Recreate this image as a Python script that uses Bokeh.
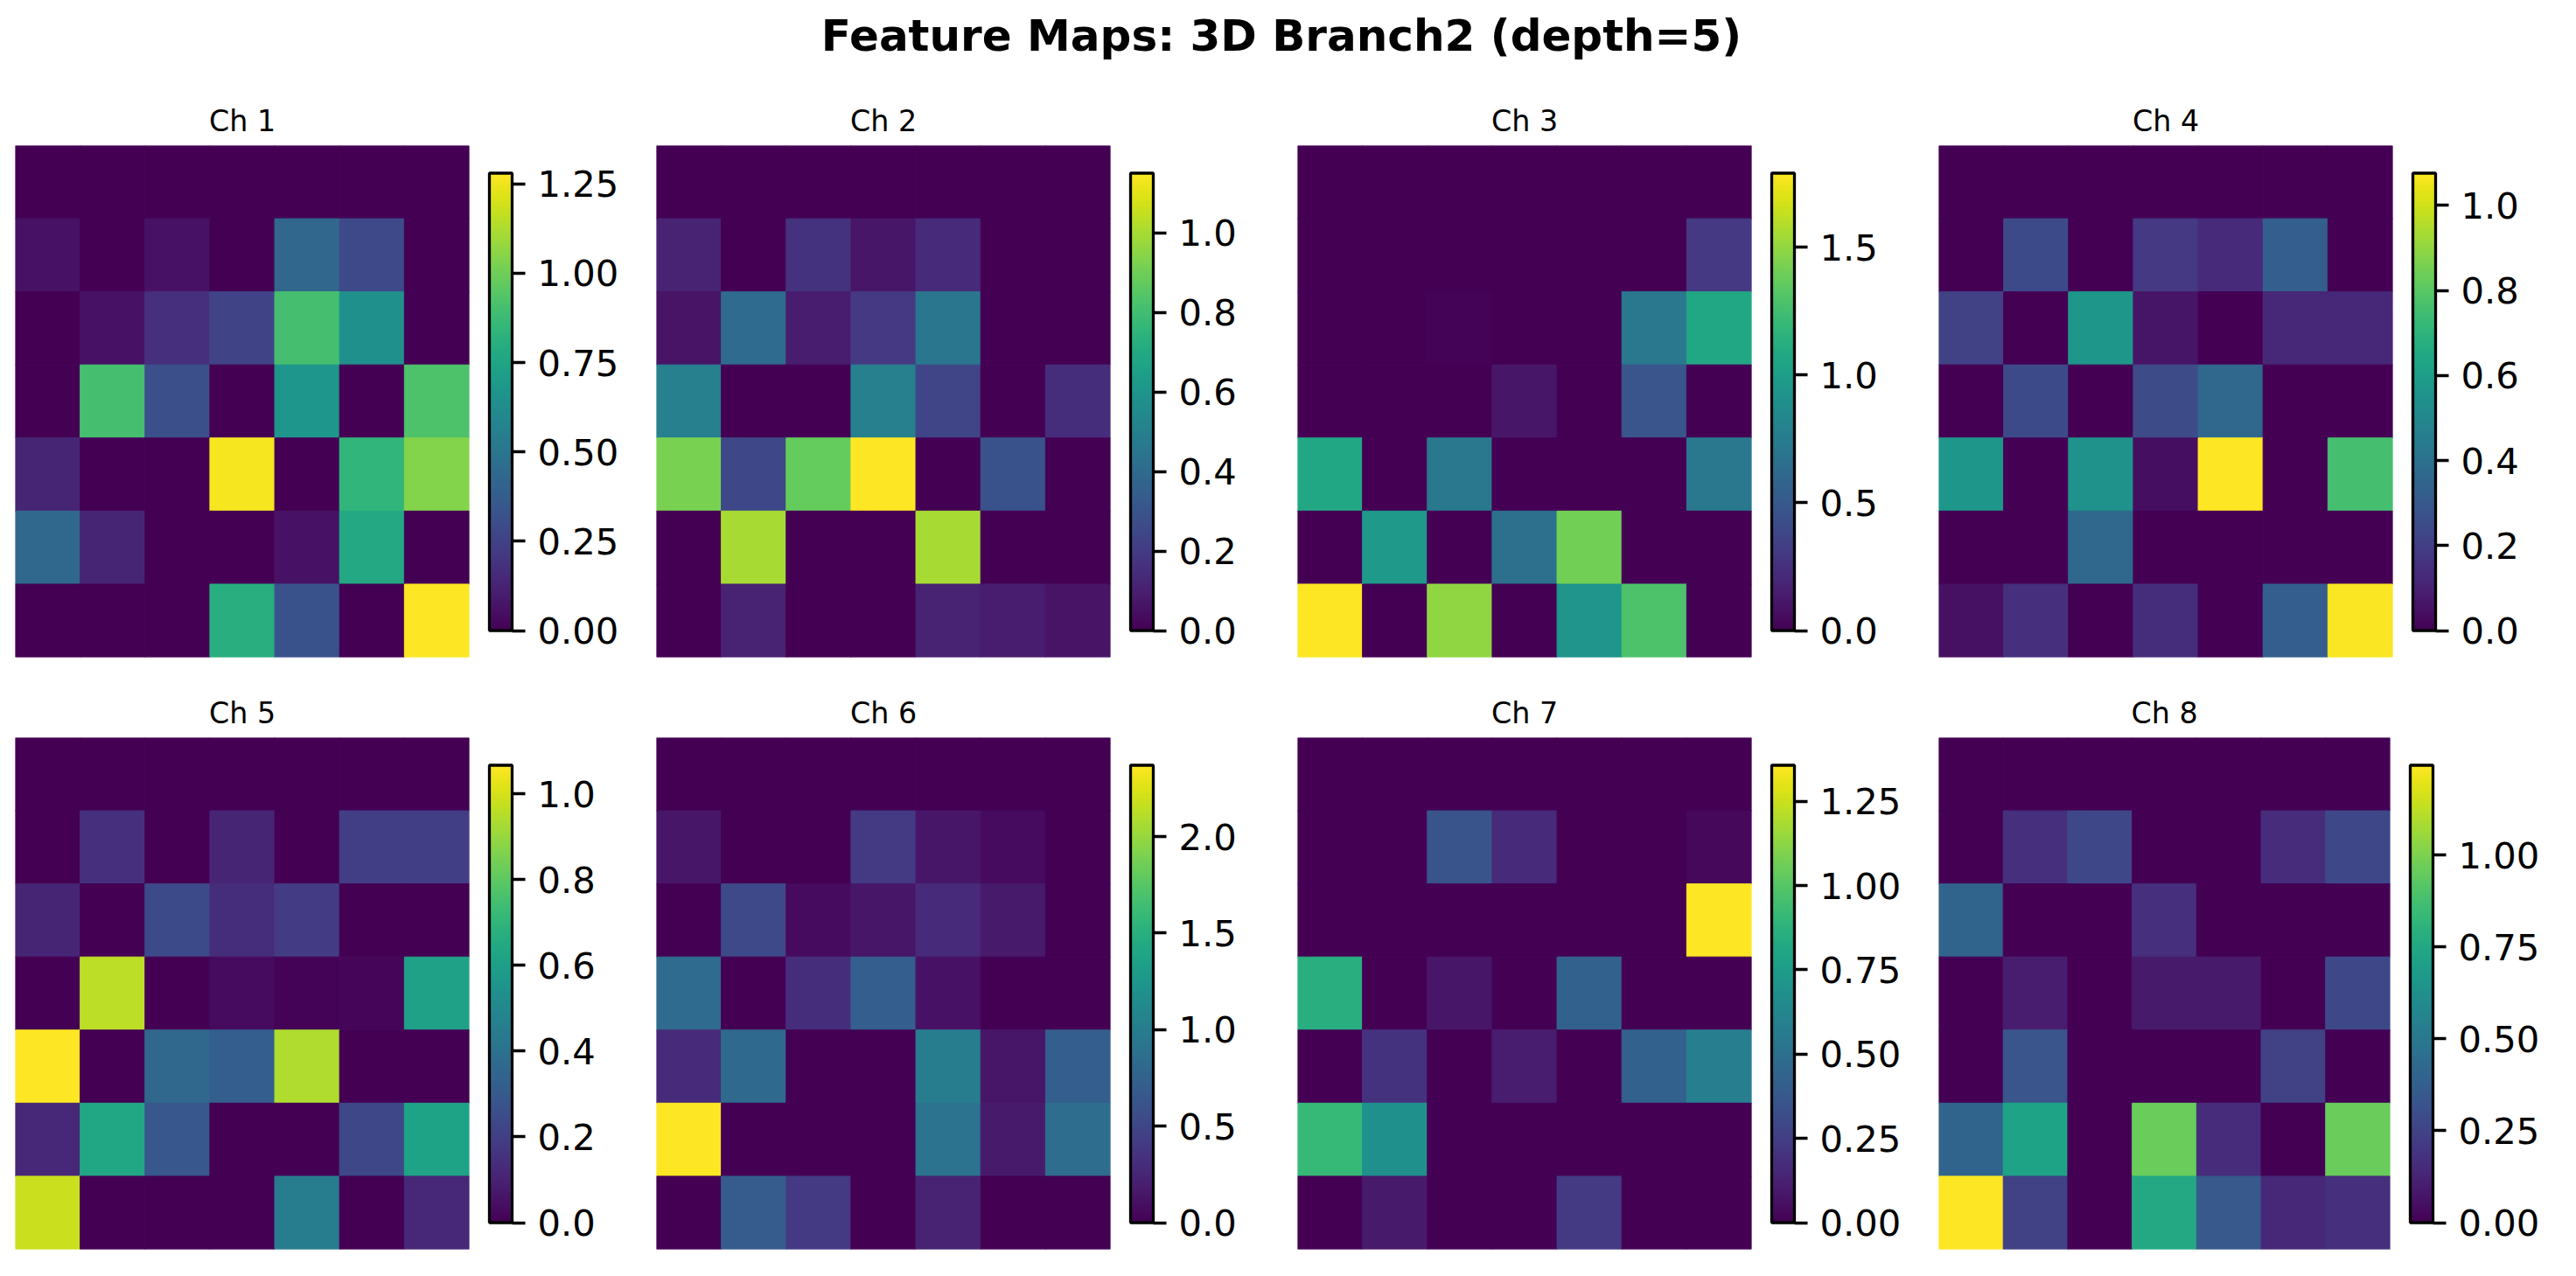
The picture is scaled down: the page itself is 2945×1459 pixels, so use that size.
from bokeh.plotting import figure
from bokeh.models import LinearColorMapper, ColorBar, FixedTicker, PrintfTickFormatter, ColumnDataSource, Label
from bokeh.layouts import column, row
from bokeh.palettes import Viridis256
from bokeh.transform import transform
from bokeh.embed import file_html
from bokeh.resources import INLINE

main_title = "Feature Maps: 3D Branch2 (depth=5)"
channel_titles = ["Ch 1", "Ch 2", "Ch 3", "Ch 4", "Ch 5", "Ch 6", "Ch 7", "Ch 8"]

# rows listed top to bottom, as displayed
ch1 = [
    [0, 0, 0, 0, 0, 0, 0],
    [0.06, 0, 0.06, 0, 0.42, 0.28, 0],
    [0, 0.06, 0.17, 0.26, 0.90, 0.64, 0],
    [0, 0.90, 0.31, 0, 0.67, 0, 0.92],
    [0.13, 0, 0, 1.26, 0, 0.84, 1.04],
    [0.43, 0.13, 0, 0, 0.06, 0.77, 0],
    [0, 0, 0, 0.80, 0.32, 0, 1.28],
]
ch2 = [
    [0, 0, 0, 0, 0, 0, 0],
    [0.11, 0, 0.17, 0.07, 0.14, 0, 0],
    [0.06, 0.40, 0.09, 0.19, 0.45, 0, 0],
    [0.50, 0, 0, 0.50, 0.24, 0, 0.15],
    [0.92, 0.25, 0.88, 1.15, 0, 0.29, 0],
    [0, 1.00, 0, 0, 1.00, 0, 0],
    [0, 0.11, 0, 0, 0.11, 0.09, 0.06],
]
ch3 = [
    [0, 0, 0, 0, 0, 0, 0],
    [0, 0, 0, 0, 0, 0, 0.30],
    [0, 0, 0.02, 0, 0, 0.72, 1.07],
    [0, 0, 0, 0.11, 0, 0.47, 0],
    [1.07, 0, 0.72, 0, 0, 0, 0.72],
    [0, 0.97, 0, 0.66, 1.41, 0, 0],
    [1.79, 0, 1.49, 0, 0.93, 1.29, 0],
]
ch4 = [
    [0, 0, 0, 0, 0, 0, 0],
    [0, 0.24, 0, 0.18, 0.13, 0.32, 0],
    [0.21, 0, 0.57, 0.06, 0, 0.12, 0.12],
    [0, 0.24, 0, 0.25, 0.36, 0, 0],
    [0.57, 0, 0.55, 0.04, 1.076, 0, 0.76],
    [0, 0, 0.36, 0, 0, 0, 0],
    [0.05, 0.15, 0, 0.14, 0, 0.32, 1.07],
]
ch5 = [
    [0, 0, 0, 0, 0, 0, 0],
    [0, 0.15, 0, 0.11, 0, 0.20, 0.20],
    [0.11, 0, 0.24, 0.14, 0.19, 0, 0],
    [0, 0.96, 0, 0.03, 0.01, 0.02, 0.61],
    [1.067, 0, 0.36, 0.32, 0.94, 0, 0],
    [0.12, 0.64, 0.29, 0, 0, 0.23, 0.62],
    [0.98, 0, 0, 0, 0.45, 0, 0.12],
]
ch6 = [
    [0, 0, 0, 0, 0, 0, 0],
    [0.14, 0, 0, 0.40, 0.14, 0.07, 0],
    [0, 0.52, 0.07, 0.14, 0.28, 0.17, 0],
    [0.83, 0, 0.31, 0.71, 0.12, 0, 0],
    [0.28, 0.81, 0, 0, 1.00, 0.14, 0.71],
    [2.37, 0, 0, 0, 0.90, 0.17, 0.85],
    [0, 0.69, 0.40, 0, 0.24, 0, 0],
]
ch7 = [
    [0, 0, 0, 0, 0, 0, 0],
    [0, 0, 0.35, 0.16, 0, 0, 0.03],
    [0, 0, 0, 0, 0, 0, 1.357],
    [0.85, 0, 0.08, 0, 0.42, 0, 0],
    [0, 0.20, 0, 0.11, 0, 0.42, 0.58],
    [0.91, 0.68, 0, 0, 0, 0, 0],
    [0, 0.10, 0, 0, 0.23, 0, 0],
]
ch8 = [
    [0, 0, 0, 0, 0, 0, 0],
    [0, 0.17, 0.27, 0, 0, 0.16, 0.27],
    [0.40, 0, 0, 0.17, 0, 0, 0],
    [0, 0.10, 0, 0.09, 0.09, 0, 0.27],
    [0, 0.33, 0, 0, 0, 0.24, 0],
    [0.40, 0.72, 0, 0.96, 0.16, 0, 0.96],
    [1.245, 0.24, 0, 0.75, 0.35, 0.14, 0.17],
]
channels = [ch1, ch2, ch3, ch4, ch5, ch6, ch7, ch8]

cbar_ticks = [
    [0, 0.25, 0.5, 0.75, 1.0, 1.25],
    [0, 0.2, 0.4, 0.6, 0.8, 1.0],
    [0, 0.5, 1.0, 1.5],
    [0, 0.2, 0.4, 0.6, 0.8, 1.0],
    [0, 0.2, 0.4, 0.6, 0.8, 1.0],
    [0, 0.5, 1.0, 1.5, 2.0],
    [0, 0.25, 0.5, 0.75, 1.0, 1.25],
    [0, 0.25, 0.5, 0.75, 1.0],
]
cbar_formats = ["%.2f", "%.1f", "%.1f", "%.1f", "%.1f", "%.1f", "%.2f", "%.2f"]

FONT = "DejaVu Sans"
PWS = [733, 733, 733, 730]
PH = 677
FW, FH = 519, 585
BL, BT = 17, 86


def panel(data, title, ticks, fmt, pw):
    n = len(data)
    xs, ys, vs = [], [], []
    for r, rowvals in enumerate(data):
        for c, v in enumerate(rowvals):
            xs.append(c)
            ys.append(n - 1 - r)
            vs.append(v)
    src = ColumnDataSource(dict(x=xs, y=ys, v=vs))
    vmax = max(vs)
    mapper = LinearColorMapper(palette=Viridis256, low=0, high=vmax)
    p = figure(width=pw, height=PH, x_range=(-0.5, n - 0.5), y_range=(-0.5, n - 0.5),
               toolbar_location=None, output_backend="svg",
               x_axis_location=None, y_axis_location=None,
               min_border_left=BL, min_border_right=pw - BL - FW,
               min_border_top=BT, min_border_bottom=PH - BT - FH)
    p.rect(x="x", y="y", width=1, height=1, source=src,
           fill_color=transform("v", mapper), line_color=transform("v", mapper), line_width=1)
    p.grid.visible = False
    p.outline_line_color = None
    p.title.text = title
    p.title.align = "center"
    p.title.text_font = FONT
    p.title.text_font_size = "33.3px"
    p.title.text_font_style = "normal"
    p.title.text_color = "black"
    p.title.standoff = 17
    cb = ColorBar(color_mapper=mapper, width=26, height=523, location="center_left",
                  padding=23, margin=0,
                  ticker=FixedTicker(ticks=ticks), formatter=PrintfTickFormatter(format=fmt),
                  major_label_text_font=FONT, major_label_text_font_size="41.7px",
                  major_label_text_color="black",
                  major_tick_in=0, major_tick_out=15, major_tick_line_color="black",
                  major_tick_line_width=3.3, minor_tick_line_color=None,
                  bar_line_color="black", bar_line_width=3.3, label_standoff=14,
                  background_fill_color=None, border_line_color=None)
    p.add_layout(cb, "right")
    return p


panels = [panel(channels[i], channel_titles[i], cbar_ticks[i], cbar_formats[i], PWS[i % 4])
          for i in range(8)]

tp = figure(width=sum(PWS), height=80, toolbar_location=None, output_backend="svg",
            x_axis_location=None, y_axis_location=None,
            min_border_left=0, min_border_right=0, min_border_top=0, min_border_bottom=0,
            x_range=(0, 1), y_range=(0, 1))
tp.grid.visible = False
tp.outline_line_color = None
tp.add_layout(Label(x=0.5, y=0.49, text=main_title, text_align="center", text_baseline="middle",
                    text_font=FONT, text_font_size="50px", text_font_style="bold",
                    text_color="black"))

layout = column(tp, row(*panels[:4]), row(*panels[4:]))
open("out.html", "w").write(file_html(layout, INLINE))
